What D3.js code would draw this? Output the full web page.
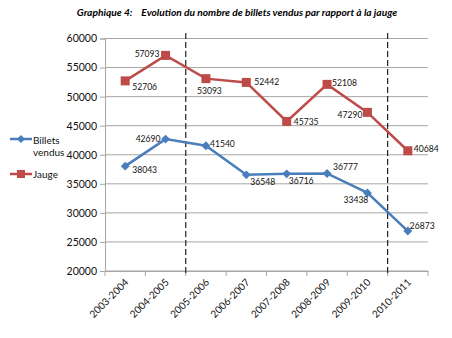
<!DOCTYPE html>
<html><head><meta charset="utf-8">
<script src="https://cdn.jsdelivr.net/npm/d3@7"></script>
<style>body{margin:0;background:#fff}svg{display:block}text{font-family:Lato,"Open Sans",sans-serif}</style>
</head><body><svg id="c" width="452" height="338"></svg>
<script>
const categories = ["2003-2004","2004-2005","2005-2006","2006-2007","2007-2008","2008-2009","2009-2010","2010-2011"];
const billets = [38043,42690,41540,36548,36716,36777,33438,26873];
const jauge = [52706,57093,53093,52442,45735,52108,47290,40684];
const yTicks = [20000,25000,30000,35000,40000,45000,50000,55000,60000];
const dividers = ["2005-2006","2010-2011"];
// label offsets [dx, dy, anchor]
const jaugeLbl = [[7,6,"start"],[-6,-1,"end"],[-9,12,"start"],[8,0,"start"],[7,1,"start"],[5,-1,"start"],[-5,3,"end"],[6,-2,"start"]];
const billetsLbl = [[7,4,"start"],[-5,0,"end"],[4,-2,"start"],[4,7,"start"],[2,7,"start"],[6,-6,"start"],[-24,7,"start"],[2,-5,"start"]];

const svg = d3.select("#c");
const L=105, R=428, T=38.5, B=271;
const x = d3.scaleBand().domain(categories).range([L,R]);
const y = d3.scaleLinear().domain([20000,60000]).range([B,T]);
const cx = d => x(d)+x.bandwidth()/2;

svg.append("text").attr("x",237).attr("y",15.5).attr("text-anchor","middle")
  .attr("font-size",10.2).attr("font-weight","bold").attr("font-style","italic")
  .style("white-space","pre").attr("xml:space","preserve")
  .text("Graphique 4:    Evolution du nombre de billets vendus par rapport à la jauge");

// gridlines
svg.append("g").selectAll("line").data(yTicks).join("line")
  .attr("x1",L).attr("x2",R).attr("y1",d=>y(d)).attr("y2",d=>y(d))
  .attr("stroke","#a6a6a6").attr("stroke-width",1);

// y axis
const ya = svg.append("g").attr("transform",`translate(${L},0)`)
  .call(d3.axisLeft(y).tickValues(yTicks).tickFormat(d3.format("d")).tickSize(5).tickPadding(3));
ya.select(".domain").attr("stroke","#a6a6a6");
ya.selectAll(".tick line").attr("stroke","#a6a6a6");
ya.selectAll("text").attr("font-size",10.5).attr("fill","#111").style("font-family","Lato,sans-serif");

// x axis
const xa = svg.append("g").attr("transform",`translate(0,${B})`)
  .call(d3.axisBottom(x).tickSize(0).tickFormat(""));
xa.select(".domain").attr("stroke","#a6a6a6");
const bounds = categories.map(c=>x(c)).concat([R]);
svg.append("g").selectAll("line").data(bounds).join("line")
  .attr("x1",d=>d).attr("x2",d=>d).attr("y1",B).attr("y2",B+5).attr("stroke","#a6a6a6");
svg.append("g").selectAll("text").data(categories).join("text")
  .attr("transform",d=>`translate(${cx(d)+4},${B+12}) rotate(-45)`)
  .attr("text-anchor","end").attr("font-size",10).attr("fill","#111").text(d=>d);

// dividers
svg.append("g").selectAll("line").data(dividers).join("line")
  .attr("x1",d=>x(d)).attr("x2",d=>x(d)).attr("y1",33).attr("y2",276)
  .attr("stroke","#222").attr("stroke-width",1.2).attr("stroke-dasharray","6,3");

const blue="#4a7ebb", red="#be4b48";
const line = d3.line().x((d,i)=>cx(categories[i])).y(d=>y(d));

svg.append("path").datum(jauge).attr("d",line).attr("fill","none").attr("stroke",red).attr("stroke-width",2.5);
svg.append("path").datum(billets).attr("d",line).attr("fill","none").attr("stroke",blue).attr("stroke-width",2.5);

svg.append("g").selectAll("rect").data(jauge).join("rect")
  .attr("x",(d,i)=>cx(categories[i])-4.5).attr("y",d=>y(d)-4.5).attr("width",9).attr("height",9).attr("fill",red);
svg.append("g").selectAll("path").data(billets).join("path")
  .attr("d",d3.symbol(d3.symbolDiamond2,50)())
  .attr("transform",(d,i)=>`translate(${cx(categories[i])},${y(d)})`).attr("fill",blue);

svg.append("g").selectAll("text").data(jauge).join("text")
  .attr("x",(d,i)=>cx(categories[i])+jaugeLbl[i][0]).attr("y",(d,i)=>y(d)+jaugeLbl[i][1])
  .attr("dy","0.35em").attr("text-anchor",(d,i)=>jaugeLbl[i][2])
  .attr("font-size",8.6).attr("fill","#111").text(d=>d);
svg.append("g").selectAll("text").data(billets).join("text")
  .attr("x",(d,i)=>cx(categories[i])+billetsLbl[i][0]).attr("y",(d,i)=>y(d)+billetsLbl[i][1])
  .attr("dy","0.35em").attr("text-anchor",(d,i)=>billetsLbl[i][2])
  .attr("font-size",8.6).attr("fill","#111").text(d=>d);

// legend
const lg = svg.append("g");
lg.append("line").attr("x1",10).attr("x2",32).attr("y1",139).attr("y2",139).attr("stroke",blue).attr("stroke-width",2.5);
lg.append("path").attr("d",d3.symbol(d3.symbolDiamond2,40)()).attr("transform","translate(21,139)").attr("fill",blue);
lg.append("text").attr("x",33).attr("y",140).attr("dy","0.35em").attr("font-size",10).attr("fill","#111").text("Billets");
lg.append("text").attr("x",33).attr("y",152).attr("dy","0.35em").attr("font-size",10).attr("fill","#111").text("vendus");
lg.append("line").attr("x1",10).attr("x2",32).attr("y1",174).attr("y2",174).attr("stroke",red).attr("stroke-width",2.5);
lg.append("rect").attr("x",17).attr("y",170).attr("width",8).attr("height",8).attr("fill",red);
lg.append("text").attr("x",33).attr("y",174).attr("dy","0.35em").attr("font-size",10).attr("fill","#111").text("Jauge");
</script></body></html>
